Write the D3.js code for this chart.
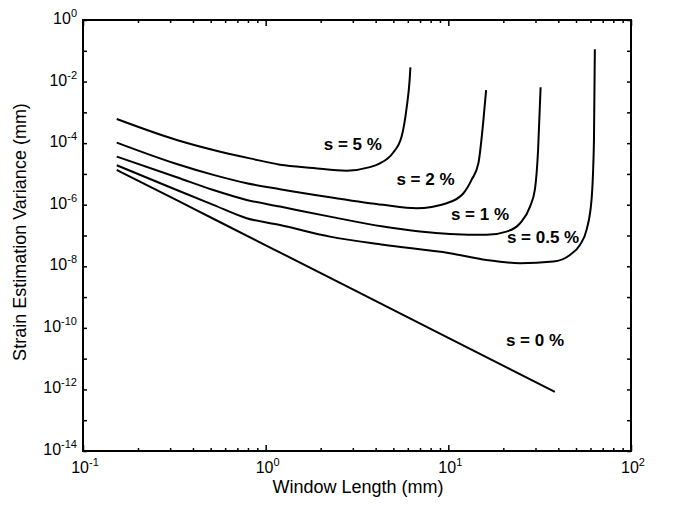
<!DOCTYPE html>
<html lang="en">
<head>
<meta charset="UTF-8">
<title>Strain Estimation Variance vs Window Length</title>
<script src="https://d3js.org/d3.v7.min.js"></script>
<style>
    body { margin: 0; background: #fff; font-family: Arial, "Liberation Sans", sans-serif; }
    .curve { fill: none; stroke: #000; stroke-width: 2; }
    .frame { fill: none; stroke: #000; stroke-width: 2; }
    .tick-label { font-size: 16px; fill: #000; }
    .axis-title { font-size: 18px; fill: #000; }
    .note { font-size: 17px; font-weight: bold; fill: #000; }
</style>
</head>
<body>
<svg id="chart" width="673" height="506"></svg>
<script>
// Window length (mm) and variance for each strain value
const len5  = [0.153, 0.326, 0.517, 0.82, 1.198, 1.82, 2.77, 3.72, 4.22, 4.97, 5.55, 5.92, 6.14, 6.2];
const var5  = [6.1e-4, 1.27e-4, 6.0e-5, 3.2e-5, 2.0e-5, 1.57e-5, 1.28e-5, 1.66e-5, 2.2e-5, 4.8e-5, 1.63e-4, 1.5e-3, 1.13e-2, 2.9e-2];
const len2  = [0.153, 0.326, 0.517, 0.787, 1.198, 2.25, 4.40, 6.7, 9.8, 12.1, 13.4, 14.6, 15.5, 16.1];
const var2  = [1.04e-4, 2.1e-5, 9.3e-6, 5.0e-6, 3.2e-6, 1.75e-6, 9.9e-7, 7.7e-7, 1.12e-6, 2.36e-6, 6.4e-6, 2.2e-5, 4.4e-4, 5.3e-3];
const len1  = [0.153, 0.326, 0.517, 0.787, 1.198, 2.25, 4.40, 10.2, 16.2, 20.8, 24.7, 28.0, 29.8, 31.0, 32.0];
const var1  = [3.65e-5, 7.8e-6, 3.0e-6, 1.43e-6, 8.7e-7, 4.1e-7, 1.95e-7, 1.12e-7, 1.05e-7, 1.34e-7, 2.5e-7, 8.7e-7, 3.2e-6, 6.0e-5, 6.5e-3];
const len05 = [0.153, 0.326, 0.517, 0.787, 1.198, 2.25, 4.40, 10.2, 16.2, 24.7, 37.5, 46.3, 52.5, 57.1, 60.8, 62.7, 63.4];
const var05 = [1.91e-5, 3.0e-6, 9.9e-7, 3.65e-7, 2.2e-7, 9.2e-8, 5.0e-8, 2.66e-8, 1.6e-8, 1.26e-8, 1.42e-8, 2.34e-8, 4.95e-8, 1.52e-7, 1.43e-6, 1.27e-4, 0.112];
const len0  = [0.153, 0.326, 0.517, 3.02, 10.0, 38.3];
const var0  = [1.35e-5, 1.4e-6, 3.5e-7, 1.75e-9, 4.7e-11, 8.3e-13];

const seriesNames = ["s = 5 %", "s = 2 %", "s = 1 %", "s = 0.5 %", "s = 0 %"];
const seriesLen = [len5, len2, len1, len05, len0];
const seriesVar = [var5, var2, var1, var05, var0];
// label anchor (data units) for each curve
const noteLen = [3.0, 7.5, 14.9, 33, 29.8];
const noteVar = [6e-5, 4.4e-6, 3.2e-7, 5.8e-8, 2.6e-11];

const xExponents = [-1, 0, 1, 2];
const yExponents = [0, -2, -4, -6, -8, -10, -12, -14];

const svg = d3.select("#chart");
const margin = { left: 83, right: 42, top: 20, bottom: 55 };
const width = +svg.attr("width"), height = +svg.attr("height");

const x = d3.scaleLog().domain([0.1, 100]).range([margin.left, width - margin.right]);
const y = d3.scaleLog().domain([1e-14, 1]).range([height - margin.bottom, margin.top]);

const x0 = x.range()[0], x1 = x.range()[1];
const y0 = y.range()[0], y1 = y.range()[1];

// tick values: majors and minors on x, every decade on y
const xMajor = xExponents.map(e => Math.pow(10, e));
const xMinor = [];
for (let e = -1; e < 2; e++) for (let k = 2; k <= 9; k++) xMinor.push(k * Math.pow(10, e));
const yTicks = d3.range(-14, 1).map(e => Math.pow(10, e));

// inward ticks on all four sides
function ticks(axisFn, scale, vals, len, tr) {
    svg.append("g")
        .attr("transform", tr)
        .call(axisFn(scale).tickValues(vals).tickSize(len).tickFormat(""))
        .call(g => g.select(".domain").remove())
        .call(g => g.selectAll("line").attr("stroke", "#000").attr("stroke-width", 1.5));
}
ticks(d3.axisTop, x, xMajor, 6, `translate(0,${y0})`);
ticks(d3.axisTop, x, xMinor, 3, `translate(0,${y0})`);
ticks(d3.axisBottom, x, xMajor, 6, `translate(0,${y1})`);
ticks(d3.axisBottom, x, xMinor, 3, `translate(0,${y1})`);
ticks(d3.axisRight, y, yTicks, 4, `translate(${x0},0)`);
ticks(d3.axisLeft, y, yTicks, 4, `translate(${x1},0)`);

svg.append("rect").attr("class", "frame")
    .attr("x", x0).attr("y", y1)
    .attr("width", x1 - x0).attr("height", y0 - y1);

// tick labels as 10^n
function powLabel(sel) {
    sel.append("tspan").text("10");
    sel.append("tspan").attr("dy", -7).attr("font-size", 11).text(d => d);
}
svg.selectAll(".xl").data(xExponents).enter().append("text")
    .attr("class", "tick-label")
    .attr("x", d => x(Math.pow(10, d)) + 2)
    .attr("y", y0 + 22)
    .attr("text-anchor", "middle")
    .call(powLabel);

svg.selectAll(".yl").data(yExponents).enter().append("text")
    .attr("class", "tick-label")
    .attr("x", x0 - 6)
    .attr("y", d => y(Math.pow(10, d)) + 4)
    .attr("text-anchor", "end")
    .call(powLabel);

// curves
const line = d3.line()
    .x(d => x(d[0]))
    .y(d => y(d[1]))
    .curve(d3.curveMonotoneX);

svg.selectAll(".curve")
    .data(seriesLen.map((l, i) => l.map((v, j) => [v, seriesVar[i][j]])))
    .enter().append("path")
    .attr("class", "curve")
    .attr("d", line);

svg.selectAll(".note").data(seriesNames).enter().append("text")
    .attr("class", "note")
    .attr("x", (d, i) => x(noteLen[i]))
    .attr("y", (d, i) => y(noteVar[i]))
    .attr("text-anchor", "middle")
    .text(d => d);

// axis titles
svg.append("text").attr("class", "axis-title")
    .attr("x", (x0 + x1) / 2 + 1)
    .attr("y", height - 13)
    .attr("text-anchor", "middle")
    .text("Window Length (mm)");

svg.append("text").attr("class", "axis-title")
    .attr("transform", "rotate(-90)")
    .attr("x", -232)
    .attr("y", 26)
    .attr("text-anchor", "middle")
    .text("Strain Estimation Variance (mm)");
</script>
</body>
</html>
